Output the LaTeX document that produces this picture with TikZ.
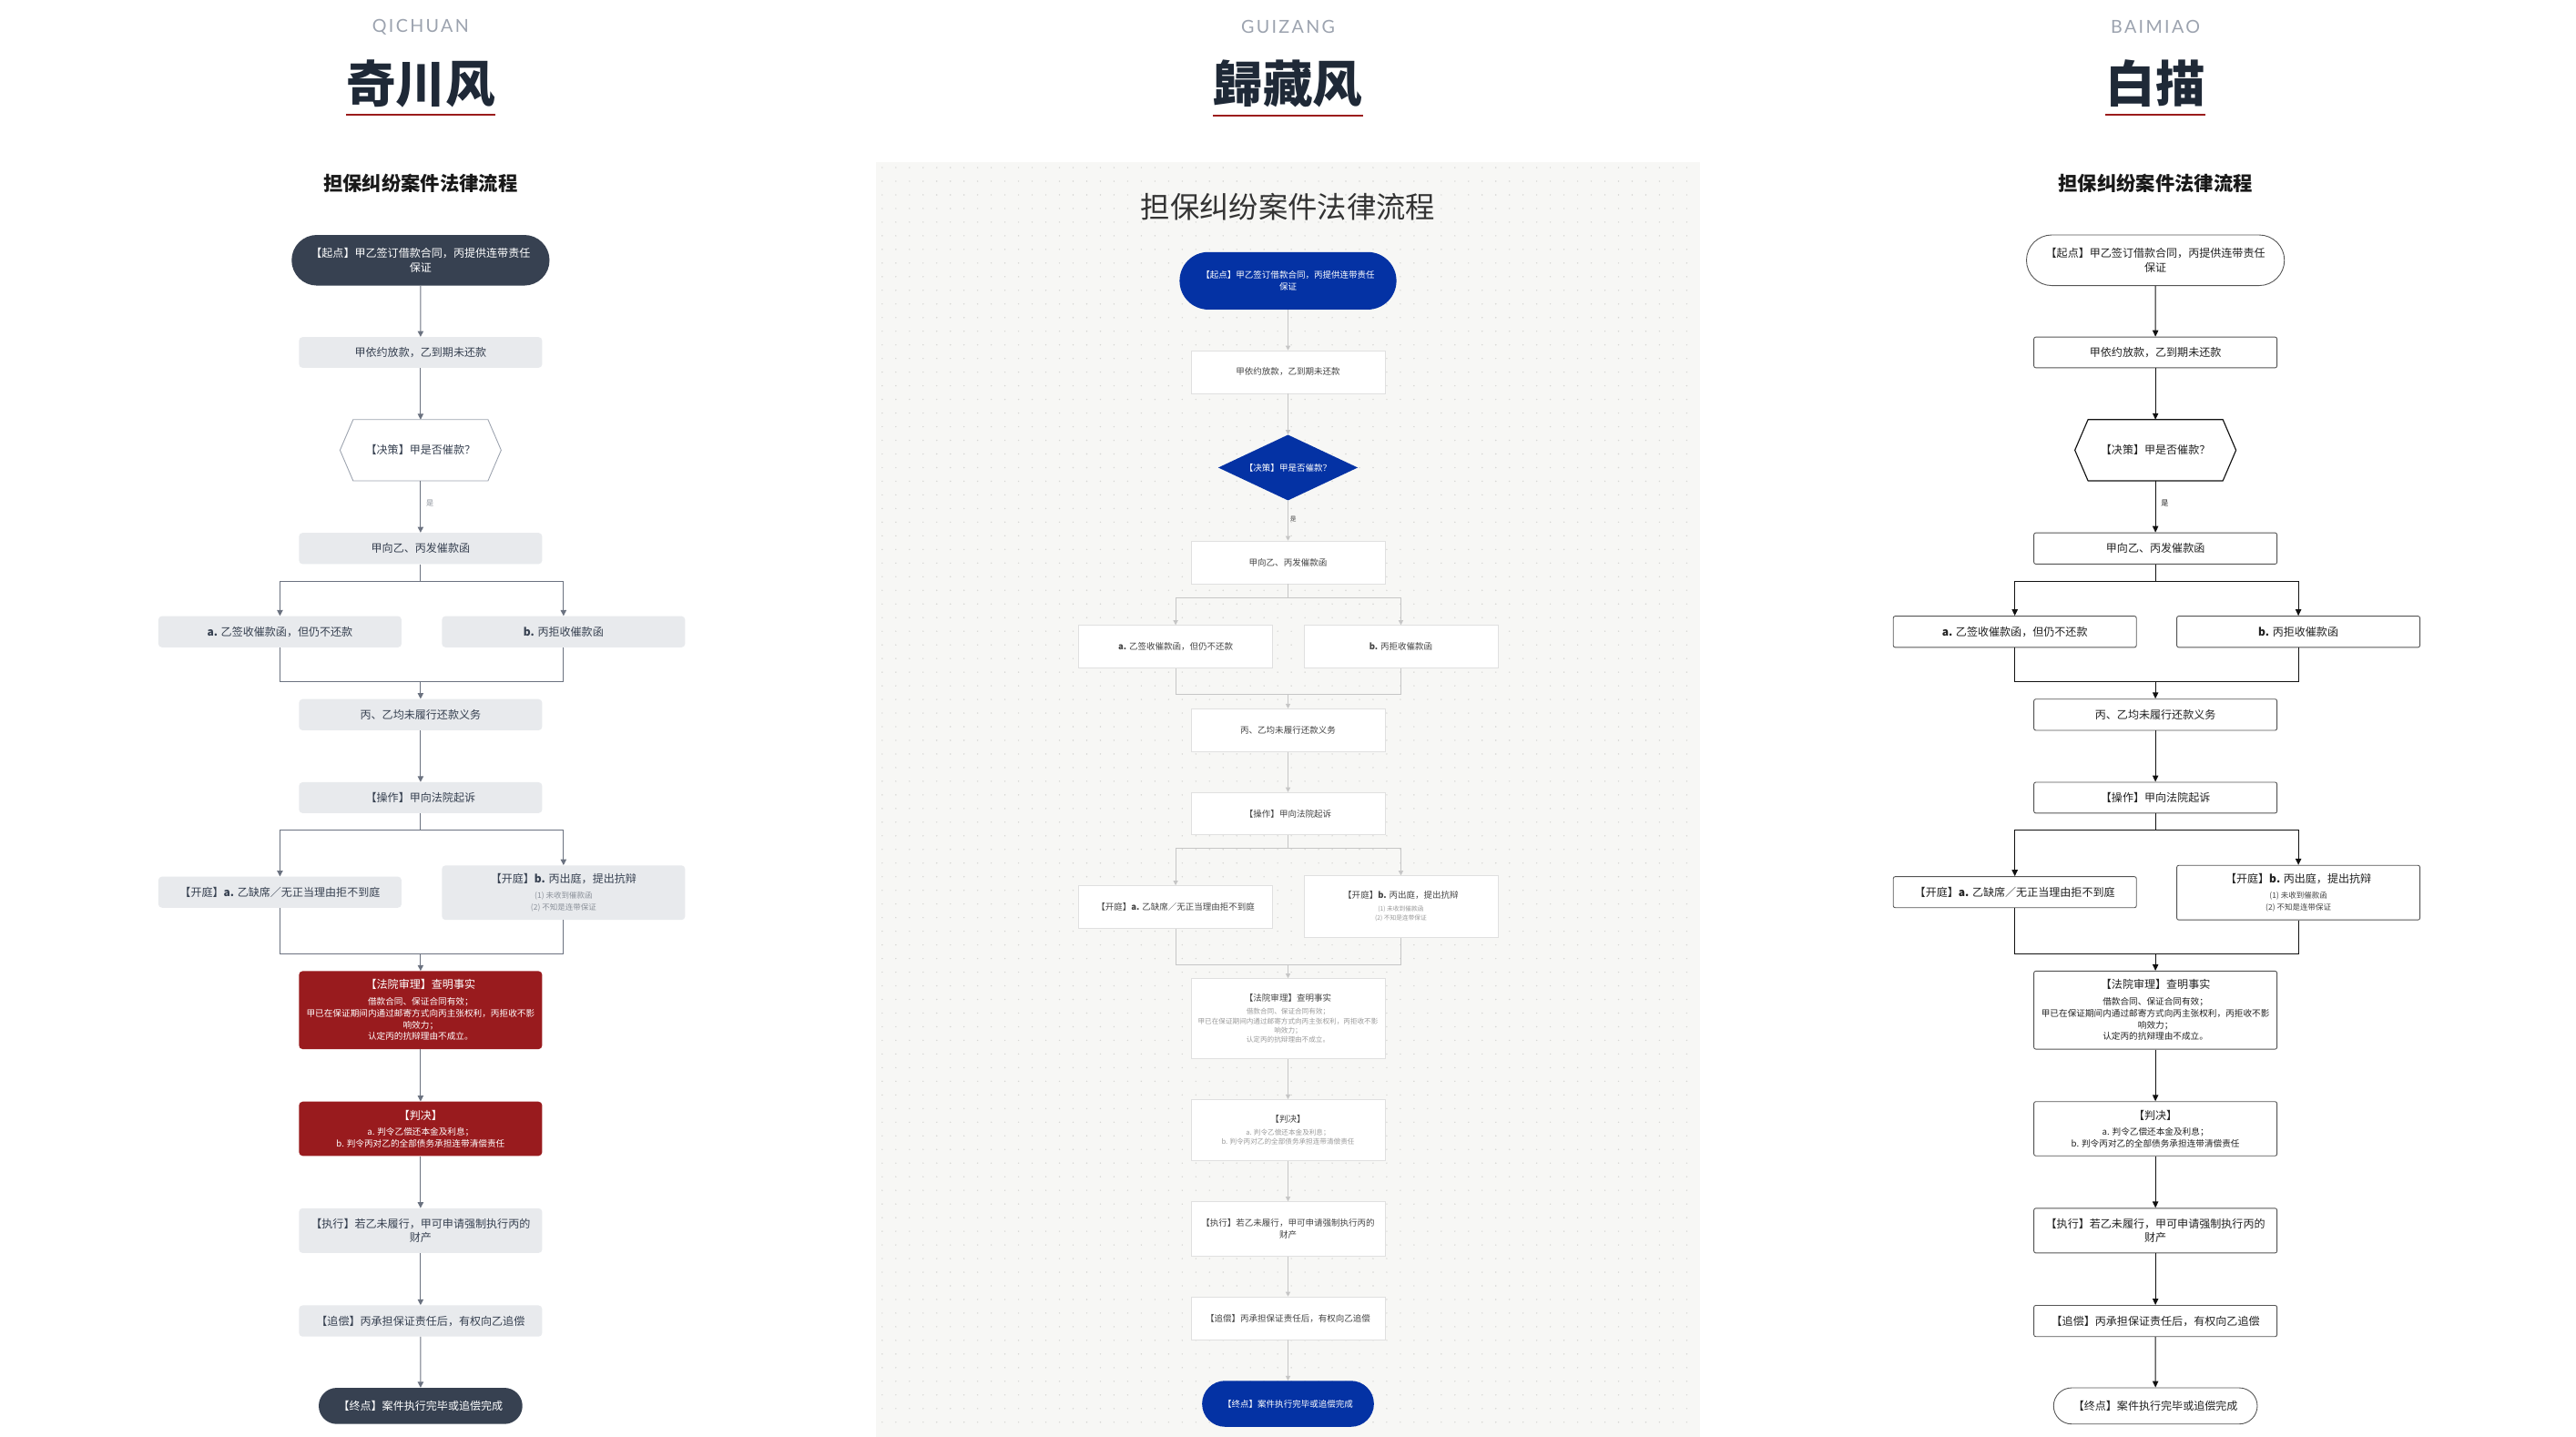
\documentclass[tikz,border=0pt]{standalone}
\usepackage{fontspec}
\setmainfont{Noto Sans CJK SC}
\newfontfamily\capfont[LetterSpace=12]{Lato}
\usepackage{xcolor}
\usepackage{tikz}
\usetikzlibrary{arrows.meta,shapes.geometric,shapes.misc}

\definecolor{ink}{HTML}{1F2937}
\definecolor{tred}{HTML}{9B1C1C}
\definecolor{capgray}{HTML}{9CA3AF}
\definecolor{qdark}{HTML}{374151}
\definecolor{qfill}{HTML}{E8EAED}
\definecolor{qred}{HTML}{991B1E}
\definecolor{qline}{HTML}{6B7280}
\definecolor{qtext}{HTML}{374151}
\definecolor{qsub}{HTML}{8B919A}
\definecolor{qhexc}{HTML}{9CA3AF}
\definecolor{gbg}{HTML}{F7F7F5}
\definecolor{gdot}{HTML}{D6D6D3}
\definecolor{gblue}{HTML}{0432A4}
\definecolor{gline}{HTML}{C6C6C6}
\definecolor{gborder}{HTML}{E0E0E0}
\definecolor{gtext}{HTML}{444444}
\definecolor{gsub}{HTML}{9A9A9A}
\definecolor{bline}{HTML}{111111}
\definecolor{bborder}{HTML}{555555}
\definecolor{btext}{HTML}{222222}
\definecolor{bsub}{HTML}{444444}

\newcommand{\qfont}{\fontsize{9.5pt}{12.2pt}\selectfont}
\newcommand{\qsmall}{\fontsize{7.6pt}{10.1pt}\selectfont}
\newcommand{\qtiny}{\fontsize{6.7pt}{10pt}\selectfont}
\newcommand{\gfont}{\fontsize{7.5pt}{10.2pt}\selectfont}
\newcommand{\gsmall}{\fontsize{6pt}{8.1pt}\selectfont}
\newcommand{\gtiny}{\fontsize{5.3pt}{8.4pt}\selectfont}

\tikzstyle{capt}=[font=\capfont\fontsize{15.5pt}{18pt}\selectfont, text=capgray, inner sep=0pt]
\tikzstyle{ttl}=[font=\fontsize{43pt}{50pt}\selectfont\bfseries, text=ink, inner sep=0pt]
\tikzstyle{uline}=[draw=tred, line width=0.7mm]
\tikzstyle{subttl}=[font=\fontsize{16.8pt}{20pt}\selectfont\bfseries, text=black!90, inner sep=0pt]
\tikzstyle{gsubttl}=[font=\fontsize{25.5pt}{30pt}\selectfont, text=black!80, inner sep=0pt]

%qichuan
\tikzstyle{qpill}=[rounded rectangle, fill=qdark, text=white, font=\qfont, align=center, inner sep=0pt, minimum width=78.5mm, minimum height=15.4mm]
\tikzstyle{qbox}=[rectangle, rounded corners=1.1mm, fill=qfill, text=qtext, font=\qfont, align=center, inner sep=0pt, minimum width=74mm, minimum height=9.4mm]
\tikzstyle{qredbox}=[qbox, fill=qred, text=white]
\tikzstyle{qhex}=[rectangle, text=qtext, font=\qfont, inner sep=0pt, minimum width=40.9mm, minimum height=18.5mm]
\tikzstyle{qhexline}=[draw=qhexc, line width=0.7pt]
\tikzstyle{qedge}=[draw=qline, line width=0.8pt, -{Triangle[length=5pt,width=5pt]}]
\tikzstyle{qlink}=[draw=qline, line width=0.8pt]
\tikzstyle{qlabel}=[font=\fontsize{6.4pt}{7pt}\selectfont, text=qsub, right, inner sep=1.6mm]

%guizang
\tikzstyle{gpill}=[rounded rectangle, fill=gblue, text=white, font=\gfont, align=center, inner sep=0pt, minimum width=66mm, minimum height=17.5mm]
\tikzstyle{gbox}=[rectangle, fill=white, draw=gborder, line width=0.6pt, text=gtext, font=\gfont, align=center, inner sep=0pt, minimum width=59mm, minimum height=13mm]
\tikzstyle{gdiamond}=[diamond, aspect=2.1, fill=gblue, text=white, font=\gfont, inner sep=0pt, minimum width=42.5mm, minimum height=20mm]
\tikzstyle{gedge}=[draw=gline, line width=0.7pt, -{Triangle[length=4pt,width=4pt]}]
\tikzstyle{glink}=[draw=gline, line width=0.7pt]
\tikzstyle{glabel}=[font=\fontsize{5.3pt}{6pt}\selectfont, text=gtext, right, inner sep=0.5mm]

%baimiao
\tikzstyle{bpill}=[rounded rectangle, fill=white, draw=bborder, line width=0.7pt, text=btext, font=\qfont, align=center, inner sep=0pt, minimum width=78.5mm, minimum height=15.4mm]
\tikzstyle{bbox}=[rectangle, rounded corners=0.6mm, fill=white, draw=bborder, line width=0.7pt, text=btext, font=\qfont, align=center, inner sep=0pt, minimum width=74mm, minimum height=9.4mm]
\tikzstyle{bhex}=[qhex, text=btext]
\tikzstyle{bhexline}=[draw=bline, line width=0.9pt, line join=round]
\tikzstyle{bedge}=[draw=bline, line width=0.9pt, -{Triangle[length=5.5pt,width=5pt]}]
\tikzstyle{blink}=[draw=bline, line width=0.9pt]
\tikzstyle{blabel}=[qlabel, text=btext]

\begin{document}
\begin{tikzpicture}[x=0.5mm, y=-0.5mm]

 \fill[white] (0,0) rectangle (1568,874.6);
 \useasboundingbox (0,0) rectangle (1568,874.6);

 \coordinate (ul1) at (0,69.9);
 \coordinate (ul2) at (0,70.5);

 %Qichuan
 \def\dx{0}

 \node[capt] (cap) at (256+\dx,16.4) {QICHUAN};
 \node[ttl] (ttl) at (256+\dx,51) {奇川风};
 \draw[uline] (ttl.west |- ul1) -- (ttl.east |- ul1);
 \node[subttl] (sub) at (256+\dx,111.8) {担保纠纷案件法律流程};

 \node[qpill] (start) at (256+\dx,158.4) {【起点】甲乙签订借款合同，丙提供连带责任\\保证};

 \foreach \x/\y/\h/\name/\label in {
   256/214.5/9.35/lend/{甲依约放款，乙到期未还款},
   256/333.8/9.5/send/{甲向乙、丙发催款函},
   170.4/384.5/9.5/a/{\textbf{a.} 乙签收催款函，但仍不还款},
   343/384.5/9.5/b/{\textbf{b.} 丙拒收催款函},
   256/435/9.5/both/{丙、乙均未履行还款义务},
   256/485.5/9.4/sue/{【操作】甲向法院起诉},
   170.4/543/9.45/ta/{【开庭】\textbf{a.} 乙缺席／无正当理由拒不到庭},
   256/749/13.6/exec/{【执行】若乙未履行，甲可申请强制执行丙的\\财产},
   256/804/9.5/recourse/{【追偿】丙承担保证责任后，有权向乙追偿}}
   \node[qbox, minimum height=\h*1mm] (\name) at (\x+\dx,\y) {\label};

 \node[qbox, font=\qtiny, minimum height=16.6mm] (tb) at (343+\dx,543.3) {\qfont【开庭】\textbf{b.} 丙出庭，提出抗辩\\[3.2pt]\color{qsub}(1) 未收到催款函\\\color{qsub}(2) 不知是连带保证};
 \node[qredbox, font=\qsmall, minimum height=23.75mm] (court) at (256+\dx,614.8) {\qfont【法院审理】查明事实\\[3.7pt]借款合同、保证合同有效；\\甲已在保证期间内通过邮寄方式向丙主张权利，丙拒收不影\\响效力；\\认定丙的抗辩理由不成立。};
 \node[qredbox, font=\qsmall, minimum height=16.5mm] (judge) at (256+\dx,687) {\qfont【判决】\\[3.3pt]a. 判令乙偿还本金及利息；\\b. 判令丙对乙的全部债务承担连带清偿责任};
 \node[qpill, minimum width=62mm, minimum height=11mm] (finish) at (256+\dx,855.7) {【终点】案件执行完毕或追偿完成};

 \node[qhex] (ask) at (256+\dx,274) {【决策】甲是否催款？};
 \draw[qhexline] (ask.north west) -- (ask.north east) -- ([xshift=4mm]ask.east) -- (ask.south east) -- (ask.south west) -- ([xshift=-4mm]ask.west) -- cycle;

 \coordinate (br1) at (256+\dx,353.8);
 \coordinate (mg1) at (256+\dx,415);
 \coordinate (br2) at (256+\dx,505.4);
 \coordinate (mg2) at (256+\dx,580.5);

 \foreach \source/\dest in {start/lend, lend/ask, mg1/both, both/sue, mg2/court, court/judge, judge/exec, exec/recourse, recourse/finish}
   \path[qedge] (\source) -- (\dest);
 \path[qedge] (ask) -- node[qlabel, pos=0.44] {是} (send);
 \foreach \source/\junc in {send/br1, sue/br2}
   \path[qlink] (\source) -- (\junc);
 \foreach \junc/\dest in {br1/a, br1/b, br2/ta, br2/tb}
   \path[qedge] (\junc) -| (\dest);
 \foreach \source/\junc in {a/mg1, b/mg1, ta/mg2, tb/mg2}
   \path[qlink] (\source) |- (\junc);

 %Guizang
 \def\dx{528}

 \fill[gbg] (533,98.8) rectangle (1035,874.6);
 \foreach \j in {0,...,92}
   \fill[gdot] foreach \i in {0,...,59} { (537+\i*8.3,102+\j*8.3) circle[radius=0.22mm] };

 \node[capt] (cap) at (256+\dx,16.6) {GUIZANG};
 \node[ttl] (ttl) at (256+\dx,51) {歸藏风};
 \draw[uline] (ttl.west |- ul2) -- (ttl.east |- ul2);
 \node[gsubttl] (sub) at (256+\dx,125.7) {担保纠纷案件法律流程};

 \node[gpill] (start) at (256+\dx,170.9) {【起点】甲乙签订借款合同，丙提供连带责任\\保证};

 \foreach \x/\y/\h/\name/\label in {
   256/226.4/13/lend/{甲依约放款，乙到期未还款},
   256/342.3/13/send/{甲向乙、丙发催款函},
   187.6/393.6/13/a/{\textbf{a.} 乙签收催款函，但仍不还款},
   324.7/393.6/13/b/{\textbf{b.} 丙拒收催款函},
   256/444.4/13/both/{丙、乙均未履行还款义务},
   256/495.2/12.9/sue/{【操作】甲向法院起诉},
   187.6/552/13/ta/{【开庭】\textbf{a.} 乙缺席／无正当理由拒不到庭},
   256/747.9/16.5/exec/{【执行】若乙未履行，甲可申请强制执行丙的\\财产},
   256/802.3/13/recourse/{【追偿】丙承担保证责任后，有权向乙追偿}}
   \node[gbox, minimum height=\h*1mm] (\name) at (\x+\dx,\y) {\label};

 \node[gbox, font=\gtiny, text=gsub, minimum height=18.8mm] (tb) at (324.7+\dx,551.8) {\gfont\color{gtext}【开庭】\textbf{b.} 丙出庭，提出抗辩\\[2.1pt](1) 未收到催款函\\(2) 不知是连带保证};
 \node[gbox, font=\gsmall, text=gsub, minimum height=24.4mm] (court) at (256+\dx,620) {\gfont\color{gtext}【法院审理】查明事实\\[2.9pt]借款合同、保证合同有效；\\甲已在保证期间内通过邮寄方式向丙主张权利，丙拒收不影\\响效力；\\认定丙的抗辩理由不成立。};
 \node[gbox, font=\gsmall, text=gsub, minimum height=18.6mm] (judge) at (256+\dx,687.8) {\gfont\color{gtext}【判决】\\[2.2pt]a. 判令乙偿还本金及利息；\\b. 判令丙对乙的全部债务承担连带清偿责任};
 \node[gpill, minimum width=52.3mm, minimum height=14mm] (finish) at (256+\dx,854.4) {【终点】案件执行完毕或追偿完成};

 \node[gdiamond] (ask) at (256+\dx,284.6) {【决策】甲是否催款？};

 \coordinate (br1) at (256+\dx,363.6);
 \coordinate (mg1) at (256+\dx,422.8);
 \coordinate (br2) at (256+\dx,516);
 \coordinate (mg2) at (256+\dx,587);

 \foreach \source/\dest in {start/lend, lend/ask, mg1/both, both/sue, mg2/court, court/judge, judge/exec, exec/recourse, recourse/finish}
   \path[gedge] (\source) -- (\dest);
 \path[gedge] (ask) -- node[glabel, pos=0.45] {是} (send);
 \foreach \source/\junc in {send/br1, sue/br2}
   \path[glink] (\source) -- (\junc);
 \foreach \junc/\dest in {br1/a, br1/b, br2/ta, br2/tb}
   \path[gedge] (\junc) -| (\dest);
 \foreach \source/\junc in {a/mg1, b/mg1, ta/mg2, tb/mg2}
   \path[glink] (\source) |- (\junc);

 %Baimiao
 \def\dx{1056}

 \node[capt] (cap) at (256+\dx,16.4) {BAIMIAO};
 \node[ttl] (ttl) at (256+\dx,51) {白描};
 \draw[uline] (ttl.west |- ul1) -- (ttl.east |- ul1);
 \node[subttl] (sub) at (256+\dx,111.8) {担保纠纷案件法律流程};

 \node[bpill] (start) at (256+\dx,158.4) {【起点】甲乙签订借款合同，丙提供连带责任\\保证};

 \foreach \x/\y/\h/\name/\label in {
   256/214.5/9.35/lend/{甲依约放款，乙到期未还款},
   256/333.8/9.5/send/{甲向乙、丙发催款函},
   170.4/384.5/9.5/a/{\textbf{a.} 乙签收催款函，但仍不还款},
   343/384.5/9.5/b/{\textbf{b.} 丙拒收催款函},
   256/435/9.5/both/{丙、乙均未履行还款义务},
   256/485.5/9.4/sue/{【操作】甲向法院起诉},
   170.4/543/9.45/ta/{【开庭】\textbf{a.} 乙缺席／无正当理由拒不到庭},
   256/749/13.6/exec/{【执行】若乙未履行，甲可申请强制执行丙的\\财产},
   256/804/9.5/recourse/{【追偿】丙承担保证责任后，有权向乙追偿}}
   \node[bbox, minimum height=\h*1mm] (\name) at (\x+\dx,\y) {\label};

 \node[bbox, font=\qtiny, minimum height=16.6mm] (tb) at (343+\dx,543.3) {\qfont【开庭】\textbf{b.} 丙出庭，提出抗辩\\[3.2pt]\color{bsub}(1) 未收到催款函\\\color{bsub}(2) 不知是连带保证};
 \node[bbox, font=\qsmall, minimum height=23.75mm] (court) at (256+\dx,614.8) {\qfont【法院审理】查明事实\\[3.7pt]借款合同、保证合同有效；\\甲已在保证期间内通过邮寄方式向丙主张权利，丙拒收不影\\响效力；\\认定丙的抗辩理由不成立。};
 \node[bbox, font=\qsmall, minimum height=16.5mm] (judge) at (256+\dx,687) {\qfont【判决】\\[3.3pt]a. 判令乙偿还本金及利息；\\b. 判令丙对乙的全部债务承担连带清偿责任};
 \node[bpill, minimum width=62mm, minimum height=11mm] (finish) at (256+\dx,855.7) {【终点】案件执行完毕或追偿完成};

 \node[bhex] (ask) at (256+\dx,274) {【决策】甲是否催款？};
 \draw[bhexline] (ask.north west) -- (ask.north east) -- ([xshift=4mm]ask.east) -- (ask.south east) -- (ask.south west) -- ([xshift=-4mm]ask.west) -- cycle;

 \coordinate (br1) at (256+\dx,353.8);
 \coordinate (mg1) at (256+\dx,415);
 \coordinate (br2) at (256+\dx,505.4);
 \coordinate (mg2) at (256+\dx,580.5);

 \foreach \source/\dest in {start/lend, lend/ask, mg1/both, both/sue, mg2/court, court/judge, judge/exec, exec/recourse, recourse/finish}
   \path[bedge] (\source) -- (\dest);
 \path[bedge] (ask) -- node[blabel, pos=0.44] {是} (send);
 \foreach \source/\junc in {send/br1, sue/br2}
   \path[blink] (\source) -- (\junc);
 \foreach \junc/\dest in {br1/a, br1/b, br2/ta, br2/tb}
   \path[bedge] (\junc) -| (\dest);
 \foreach \source/\junc in {a/mg1, b/mg1, ta/mg2, tb/mg2}
   \path[blink] (\source) |- (\junc);

\end{tikzpicture}
\end{document}
